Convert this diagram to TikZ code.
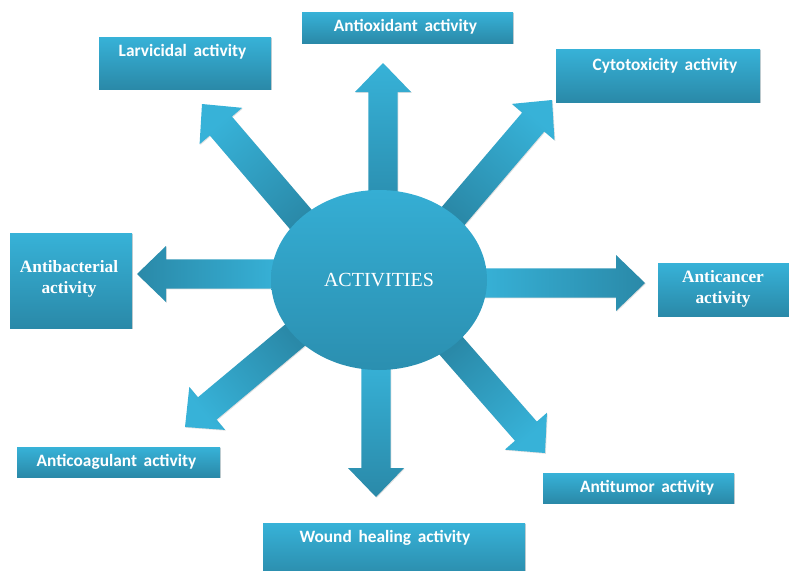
\documentclass[tikz,border=0pt]{standalone}
\usepackage{fontspec}
\setmainfont{Liberation Serif}
\newfontfamily\labelsans[WordSpace=1.7]{Carlito}
\usetikzlibrary{calc,shapes.geometric,shadows}

\definecolor{tealL}{HTML}{37B2D8}
\definecolor{tealD}{HTML}{2A89A8}
\definecolor{ovalL}{HTML}{35AED4}
\definecolor{ovalD}{HTML}{2B8FB0}

\tikzset{
  panel/.style={rectangle, inner sep=0pt, bottom color=tealD, top color=tealL,
    drop shadow={shadow xshift=0.8pt, shadow yshift=-0.8pt, opacity=0.18, fill=black}},
  sanslabel/.style={text=white, inner sep=0pt,
    font=\labelsans\bfseries\fontsize{13pt}{15.5pt}\selectfont},
  seriflabel/.style={text=white, inner sep=0pt, align=center,
    font=\bfseries\fontsize{13pt}{15.75pt}\selectfont},
  hub/.style={ellipse, inner sep=0pt, minimum width=162pt, minimum height=135pt,
    bottom color=ovalD, top color=ovalL, text=white,
    font=\fontsize{15pt}{18pt}\selectfont},
  arrowshadow/.style={drop shadow={shadow xshift=0.6pt, shadow yshift=-0.6pt, opacity=0.12, fill=black}}
}

% block arrow from tail #1 to tip #2, tail colour #3, head colour #4, shading angle #5
\newcommand{\blockarrow}[5]{%
  \coordinate (#1-h) at ($(#2)!21.75pt!(#1)$);
  \shade[arrowshadow, bottom color=#3, top color=#4, shading angle=#5]
    ($(#1)!10.9pt!90:(#2)$) -- ($(#1-h)!10.9pt!90:(#2)$) -- ($(#1-h)!21pt!90:(#2)$)
    -- (#2)
    -- ($(#1-h)!21pt!-90:(#2)$) -- ($(#1-h)!10.9pt!-90:(#2)$) -- ($(#1)!10.9pt!-90:(#2)$)
    -- cycle;
}

\begin{document}
\begin{tikzpicture}[x=0.75pt, y=-0.75pt]
\useasboundingbox (0,0) rectangle (789,571);

% tails (hidden under the hub) and tips of the eight arrows
\coordinate (tU)  at (383,200); \coordinate (pU)  at (383,63);
\coordinate (tD)  at (376,360); \coordinate (pD)  at (376,497);
\coordinate (tL)  at (281,274); \coordinate (pL)  at (137,274);
\coordinate (tR)  at (477,283); \coordinate (pR)  at (645,283);
\coordinate (tUL) at (309,229); \coordinate (pUL) at (202,104);
\coordinate (tUR) at (448,222); \coordinate (pUR) at (552,100);
\coordinate (tLL) at (300,331); \coordinate (pLL) at (185,427);
\coordinate (tLR) at (446,340); \coordinate (pLR) at (545,453);

\blockarrow{tU}{pU}{ovalD}{tealL}{0}
\blockarrow{tD}{pD}{tealL}{tealD}{-180}
\blockarrow{tL}{pL}{tealL}{tealD}{90}
\blockarrow{tR}{pR}{tealL}{tealD}{-90}
\blockarrow{tUL}{pUL}{tealD}{tealL}{40.5}
\blockarrow{tUR}{pUR}{tealD}{tealL}{-40.5}
\blockarrow{tLL}{pLL}{tealD}{tealL}{129.7}
\blockarrow{tLR}{pLR}{tealD}{tealL}{-138.7}

% activity panels
\node[panel, minimum width=129pt,    minimum height=39pt]    (larv)  at (185,63)     {};
\node[panel, minimum width=158.25pt, minimum height=23.25pt] (antiox) at (407.5,27.5) {};
\node[panel, minimum width=153pt,    minimum height=39.75pt] (cyto)  at (658,75.5)   {};
\node[panel, minimum width=91.5pt,   minimum height=71.25pt] (bact)  at (71,280.5)   {};
\node[panel, minimum width=98.25pt,  minimum height=39.75pt] (canc)  at (723.5,289.5) {};
\node[panel, minimum width=152.25pt, minimum height=22.5pt]  (coag)  at (118.5,462)  {};
\node[panel, minimum width=143.25pt, minimum height=22.5pt]  (tumor) at (638.5,488)  {};
\node[panel, minimum width=196.5pt,  minimum height=42.75pt] (wound) at (394,551.5)  {};

\node[sanslabel]  (larv-t)   at ($(larv.center)+(-2.5,-11)$)  {Larvicidal activity};
\node[sanslabel]  (antiox-t) at ($(antiox.center)+(-2,-0.5)$) {Antioxidant activity};
\node[sanslabel]  (cyto-t)   at ($(cyto.center)+(7,-9.5)$)    {Cytotoxicity activity};
\node[seriflabel] (bact-t)   at ($(bact.center)+(-2,-2)$)     {Antibacterial\\activity};
\node[seriflabel] (canc-t)   at ($(canc.center)+(-0.5,-0.5)$) {Anticancer\\activity};
\node[sanslabel]  (coag-t)   at ($(coag.center)+(-2,0)$)      {Anticoagulant activity};
\node[sanslabel]  (tumor-t)  at ($(tumor.center)+(8.5,0)$)    {Antitumor activity};
\node[sanslabel]  (wound-t)  at ($(wound.center)+(-9,-13.5)$) {Wound healing activity};

% central hub
\node[hub] (act) at (379,280) {ACTIVITIES};
\end{tikzpicture}
\end{document}
